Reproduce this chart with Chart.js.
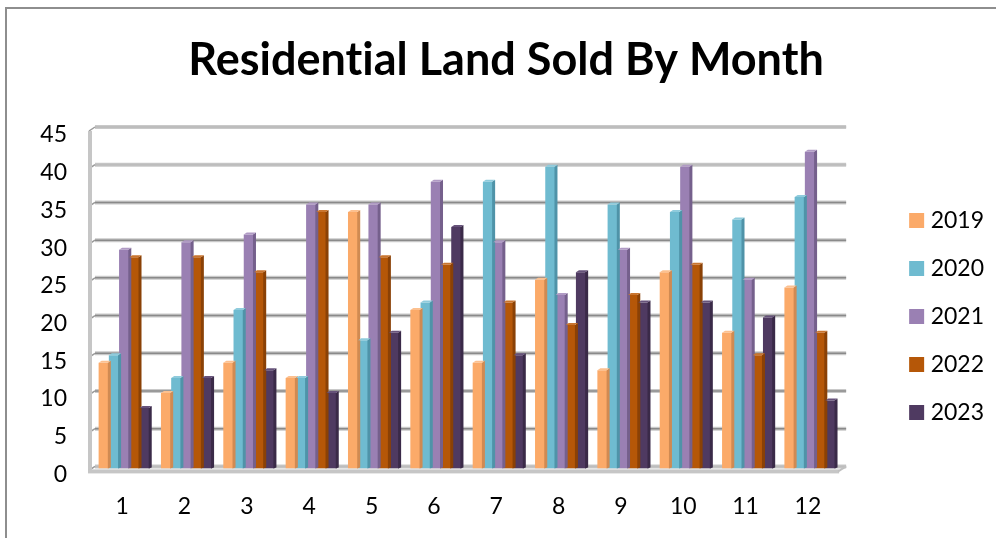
<!DOCTYPE html>
<html>
<head>
<meta charset="utf-8">
<title>Residential Land Sold By Month</title>
<script src="https://cdn.jsdelivr.net/npm/chart.js@4"></script>
<style>
  html, body { margin: 0; padding: 0; background: #fff; overflow: hidden; }
  #wrap { position: relative; width: 996px; height: 538px; }
  #frame { position: absolute; left: 5px; top: 7px; width: 991px; height: 531px;
           border-left: 2px solid #8e8e8e; border-top: 2px solid #8e8e8e; box-sizing: border-box; }
  canvas { position: absolute; left: 0; top: 0; }
</style>
</head>
<body>
<div id="wrap">
  <div id="frame"></div>
  <canvas id="landChart" width="996" height="538"></canvas>
</div>
<script>
const months = ['1', '2', '3', '4', '5', '6', '7', '8', '9', '10', '11', '12'];
const sold2019 = [14, 10, 14, 12, 34, 21, 14, 25, 13, 26, 18, 24];
const sold2020 = [15, 12, 21, 12, 17, 22, 38, 40, 35, 34, 33, 36];
const sold2021 = [29, 30, 31, 35, 35, 38, 30, 23, 29, 40, 25, 42];
const sold2022 = [28, 28, 26, 34, 28, 27, 22, 19, 23, 27, 15, 18];
const sold2023 = [8, 12, 13, 10, 18, 32, 15, 26, 22, 22, 20, 9];

// back wall, floor and gridlines of the fake 3D box
const wallPlugin = {
  id: 'wall',
  beforeDatasetsDraw(chart) {
    const { ctx, scales: { x, y } } = chart;
    const left = x.left - 2, right = x.right + 5;
    ctx.save();
    y.ticks.forEach(t => {
      const py = y.getPixelForValue(t.value) - 2;
      const light = t.value >= 40 || t.value === 0;
      ctx.strokeStyle = '#c9c9c9';
      ctx.lineWidth = 4;
      ctx.beginPath();
      ctx.moveTo(left + 4, py);
      ctx.lineTo(right, py);
      ctx.stroke();
      ctx.strokeStyle = light ? '#bdbdbd' : '#8a8a8a';
      ctx.lineWidth = light ? 2 : 1.5;
      ctx.beginPath();
      ctx.moveTo(left + 4, py);
      ctx.lineTo(right, py);
      ctx.stroke();
      // small slanted tick down to the front of the side wall
      ctx.strokeStyle = '#9a9a9a';
      ctx.lineWidth = 1.5;
      ctx.beginPath();
      ctx.moveTo(left + 4, py);
      ctx.lineTo(left - 2, py + 4);
      ctx.stroke();
    });
    const top = y.getPixelForValue(45) - 2;
    const bottom = y.getPixelForValue(0);
    ctx.fillStyle = '#c6c6c6';
    ctx.fillRect(left - 3, top + 4, 4, bottom - top);
    ctx.fillRect(left - 3, bottom + 1, right - left - 4, 4);
    ctx.strokeStyle = '#c0c0c0';
    ctx.lineWidth = 2;
    ctx.beginPath();
    ctx.moveTo(right, bottom - 2);
    ctx.lineTo(right - 8, bottom + 3);
    ctx.stroke();
    ctx.restore();
  }
};

// dark side face and light cap on each bar
const bevelPlugin = {
  id: 'bevel',
  afterDatasetsDraw(chart) {
    const { ctx } = chart;
    ctx.save();
    chart.data.datasets.forEach((ds, i) => {
      chart.getDatasetMeta(i).data.forEach(bar => {
        const r = bar.x + bar.width / 2;
        ctx.fillStyle = ds.sideColor;
        ctx.beginPath();
        ctx.moveTo(r - 1, bar.y);
        ctx.lineTo(r + 2, bar.y - 2);
        ctx.lineTo(r + 2, bar.base - 1);
        ctx.lineTo(r - 1, bar.base);
        ctx.closePath();
        ctx.fill();
        ctx.fillStyle = ds.capColor;
        ctx.beginPath();
        ctx.moveTo(bar.x - bar.width / 2, bar.y);
        ctx.lineTo(bar.x - bar.width / 2 + 3, bar.y - 2);
        ctx.lineTo(r + 2, bar.y - 2);
        ctx.lineTo(r - 1, bar.y);
        ctx.closePath();
        ctx.fill();
      });
    });
    ctx.restore();
  }
};

// moves legend and title to where they sit in the original, and turns off the "ti" ligature
const placePlugin = {
  id: 'place',
  afterLayout(chart) {
    const lg = chart.legend;
    lg.left += 48;
    lg.right += 48;
    lg.top += 32;
    lg.bottom += 32;
    chart.titleBlock.left += 25;
    chart.titleBlock.right += 25;
  },
  beforeDraw(chart) {
    chart.ctx.letterSpacing = '0.01px';
  }
};

new Chart(document.getElementById('landChart'), {
  type: 'bar',
  data: {
    labels: months,
    datasets: [
      { label: '2019', data: sold2019, backgroundColor: '#fbaa69', sideColor: '#d08a52', capColor: '#fcc08f' },
      { label: '2020', data: sold2020, backgroundColor: '#6fbbd0', sideColor: '#4f93a8', capColor: '#8fcbdc' },
      { label: '2021', data: sold2021, backgroundColor: '#9a80b3', sideColor: '#75608c', capColor: '#b09ac4' },
      { label: '2022', data: sold2022, backgroundColor: '#b55708', sideColor: '#8a4106', capColor: '#c9752f' },
      { label: '2023', data: sold2023, backgroundColor: '#4f3a61', sideColor: '#3a2a48', capColor: '#66527a' }
    ]
  },
  options: {
    responsive: false,
    animation: false,
    layout: { padding: { left: 16, right: 50, top: 33, bottom: 2 } },
    datasets: { bar: { categoryPercentage: 0.82, barPercentage: 1 } },
    plugins: {
      title: {
        display: true,
        text: 'Residential Land Sold By Month',
        color: '#000',
        font: { family: 'Lato', size: 45, weight: 'bold' },
        padding: { top: 0, bottom: 42 }
      },
      legend: {
        position: 'right',
        labels: {
          color: '#000',
          font: { family: 'Lato', size: 23 },
          boxWidth: 5,
          boxHeight: 5,
          padding: 25,
          // 5px box with a 10px stroke, so the 15px swatch sits close to its text
          generateLabels(chart) {
            return Chart.defaults.plugins.legend.labels.generateLabels(chart).map(item => ({
              ...item,
              strokeStyle: item.fillStyle,
              lineWidth: 10
            }));
          }
        }
      },
      tooltip: { enabled: false }
    },
    scales: {
      x: {
        grid: { display: false },
        border: { display: false },
        ticks: { color: '#000', font: { family: 'Lato', size: 23 }, padding: 16, labelOffset: -2, maxRotation: 0 }
      },
      y: {
        min: 0,
        max: 45,
        grid: { display: false },
        border: { display: false },
        afterFit(scale) { scale.width = 77; },
        ticks: { color: '#000', font: { family: 'Lato', size: 23 }, stepSize: 5, padding: 18, labelOffset: 6 }
      }
    }
  },
  plugins: [wallPlugin, bevelPlugin, placePlugin]
});
</script>
</body>
</html>
